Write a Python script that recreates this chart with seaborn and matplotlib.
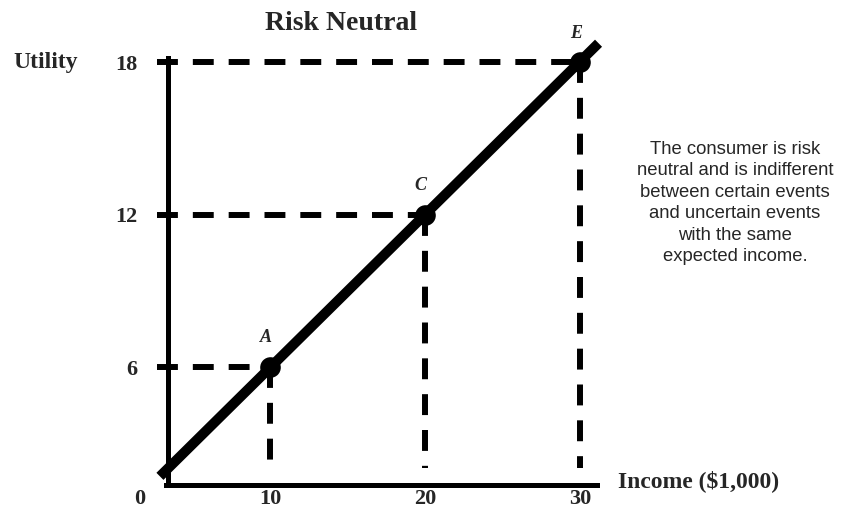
import matplotlib
matplotlib.use('Agg')
import matplotlib.pyplot as plt
import seaborn as sns
import pandas as pd

# Points on the utility function
points = ['A', 'C', 'E']
income = [10, 20, 30]
utility = [6, 12, 18]

# The straight utility line (runs a bit past the axes at both ends)
line_income = [2.9, 31.2]
line_utility = [1.7, 18.75]

x_ticks = [10, 20, 30]
y_ticks = [6, 12, 18]

note = ("The consumer is risk\nneutral and is indifferent\nbetween certain events\n"
        "and uncertain events\nwith the same\nexpected income.")

sns.set_style('white')
plt.rcParams['font.family'] = ['Liberation Serif', 'DejaVu Serif']

fig = plt.figure(figsize=(8.68, 5.08), dpi=100)
ax = fig.add_axes([168 / 868, 23 / 508, 442 / 868, 455 / 508])
ax.set_xlim(3.42, 31.94)
ax.set_ylim(1.36, 19.27)

# Dashed guide lines
dash = dict(color='black', lw=4.3, dashes=(3.5, 2.5), clip_on=False, zorder=2)
for x, y in zip(income, utility):
    ax.plot([2.71, x], [y, y], **dash)
    ax.plot([x, x], [y, 2.03], **dash)

line_df = pd.DataFrame({'Income': line_income, 'Utility': line_utility})
sns.lineplot(data=line_df, x='Income', y='Utility', ax=ax, color='black',
             lw=7.2, solid_capstyle='butt', clip_on=False, zorder=3)

pts_df = pd.DataFrame({'Income': income, 'Utility': utility, 'Point': points})
sns.scatterplot(data=pts_df, x='Income', y='Utility', ax=ax, color='black',
                s=220, edgecolor='black', linewidth=0, zorder=4, clip_on=False)

for name, x, y in zip(points, income, utility):
    ax.annotate(name, xy=(x, y), xytext=(-3, 21), textcoords='offset points',
                ha='center', va='center', fontsize=13, fontweight='bold',
                fontstyle='italic')

# Axes styling
for s in ['top', 'right']:
    ax.spines[s].set_visible(False)
for s in ['left', 'bottom']:
    ax.spines[s].set_linewidth(3.6)
    ax.spines[s].set_color('black')
ax.spines['left'].set_bounds(1.36, 18.15)
ax.spines['bottom'].set_bounds(3.3, 31.1)

ax.set_xticks(x_ticks)
ax.set_yticks(y_ticks)
ax.set_xticklabels([str(v) for v in x_ticks], fontsize=16, fontweight='bold')
ax.set_yticklabels([str(v) for v in y_ticks], fontsize=16, fontweight='bold')
ax.tick_params(axis='x', length=0, pad=3)
ax.tick_params(axis='y', length=0, pad=22)
ax.set_xlabel('')
ax.set_ylabel('')

ax.annotate('0', xy=(1.6, 1.36), xytext=(0, -3), textcoords='offset points',
            ha='center', va='top', fontsize=16, fontweight='bold',
            annotation_clip=False)
ax.text(32.45, 1.5, 'Income ($1,000)', ha='left', va='center', fontsize=17,
        fontweight='bold', clip_on=False)
ax.text(-4.5, 18, 'Utility', ha='center', va='center', fontsize=17,
        fontweight='bold', clip_on=False)

fig.text(341 / 868, 1 - 24 / 508, 'Risk Neutral', ha='center', va='center',
         fontsize=20, fontweight='bold')
fig.text(735 / 868, 1 - 203 / 508, note, ha='center', va='center',
         fontsize=13.3, family=['Liberation Sans', 'DejaVu Sans'], linespacing=1.35)

fig.savefig('out.png', dpi=100)
